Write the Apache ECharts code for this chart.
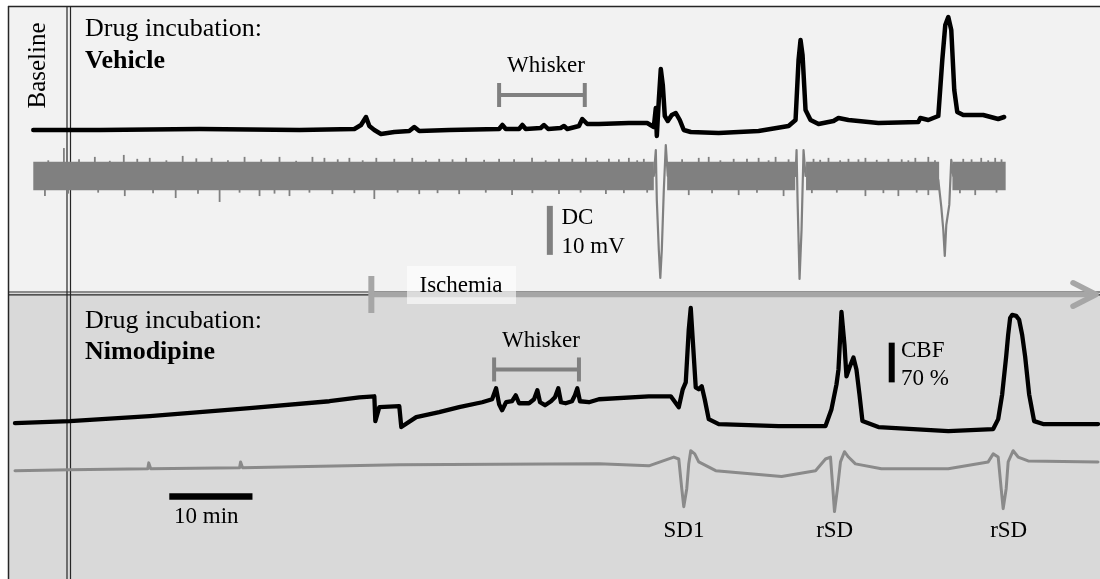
<!DOCTYPE html>
<html>
<head>
<meta charset="utf-8">
<script src="https://cdn.jsdelivr.net/npm/echarts@6/dist/echarts.min.js"></script>
<style>
html, body { margin: 0; padding: 0; background: #fff; }
#main { width: 1100px; height: 579px; }
</style>
</head>
<body>
<div id="main"></div>
<script>
// units: time in min, CBF in % (change), DC in mV
// scale bars of the figure
var scaleTime = 10, scaleCbf = 70, scaleDc = 10;

// ischemia onset / end of recording, whisker stimulation windows
var ischemia = [[44.64, 131.76]];
var whiskerVehicle = [[60.0, 70.3]];
var whiskerNimodipine = [[59.4, 69.6]];

// vehicle: CBF trace
var cbfVehicle = [
  [4.0,0],[12.0,0],[24.0,1.75],[36.0,0],[42.6,1.75],[43.4,8.75],[44.0,22.75],[44.4,7],[45.0,0],
  [45.8,-7],[47.4,-3.5],[49.2,-1.75],[49.8,5.25],[50.4,-1.75],[54.0,0],[60.0,1.75],[60.4,8.75],
  [60.8,1.75],[62.4,1.75],[62.8,8.75],[63.2,1.75],[65.0,3.5],[65.4,8.75],[65.9,1.75],[67.4,3.5],
  [67.8,7],[68.2,1.75],[69.6,7],[70.0,19.25],[70.6,10.5],[72.0,10.5],[75.6,12.25],[77.8,12.25],
  [78.6,5.25],[78.84,38.5],[78.96,-10.5],[79.2,52.5],[79.44,106.75],[79.68,78.75],[79.92,24.5],
  [80.28,15.75],[80.76,26.25],[81.24,29.75],[81.72,17.5],[82.2,0],[83.04,-3.5],[86.4,-5.25],
  [91.2,-1.75],[94.8,7],[95.64,17.5],[96.0,122.5],[96.24,157.5],[96.48,131.25],[96.84,35],
  [97.44,17.5],[98.4,10.5],[100.2,15.75],[100.8,21],[102,17.5],[105.6,12.25],[110.4,14],
  [110.64,21],[111.6,17.5],[112.8,24.5],[113.28,122.5],[113.64,183.75],[114.0,197.75],
  [114.36,175],[114.72,70],[115.08,31.5],[115.8,26.25],[118.2,26.25],[120.0,19.25],[120.72,22.75]
];

// vehicle: DC noise band segments [t0, t1, low, high] and single noise spikes [t, mV]
var dcVehicleBand = [[4.0,78.6,-2.9,2.9],[80.2,95.6,-2.9,2.9],[96.9,112.9,-2.9,2.9],[114.5,120.9,-2.9,2.9]];
var dcVehicleSpikes = [
  [7.68,5.7],[11.4,3.9],[14.88,4.3],[18.0,3.7],[21.96,4.1],[25.44,3.7],[29.4,3.9],[33.6,3.9],
  [37.56,3.9],[39.0,3.7],[42.0,3.7],[45.24,3.7],[49.56,3.7],[52.8,3.5],[56.04,3.7],[60.0,3.5],
  [63.96,3.7],[67.2,3.5],[70.44,3.7],[73.2,3.5],[75.6,3.7],[77.4,3.5],[84.0,3.7],[85.2,3.9],
  [88.2,3.5],[91.2,3.7],[93.24,3.9],[97.8,3.5],[99.6,3.7],[102.0,3.5],[104.04,3.7],[106.8,3.5],
  [110.04,3.7],[111.6,3.9],[115.8,3.5],[117.96,3.7],[119.64,3.7],
  [5.8,3.2],[9.5,3.4],[13.2,3.1],[16.5,3.5],[20.0,3.2],[23.6,3.6],[27.4,3.2],[31.4,3.4],[35.6,3.1],
  [40.6,3.4],[43.6,3.2],[47.4,3.5],[51.2,3.2],[54.4,3.4],[58.2,3.3],[61.8,3.4],[65.6,3.2],[68.8,3.5],
  [71.8,3.2],[74.4,3.4],[76.6,3.2],[82.0,3.4],[86.6,3.2],[89.8,3.5],[92.4,3.2],[94.8,3.4],[98.6,3.3],
  [101.0,3.2],[103.2,3.4],[105.4,3.3],[108.4,3.4],[109.2,3.2],[112.4,3.2],[116.8,3.4],[118.8,3.2],[120.4,3.4],
  [5.4,-4.1],[15.0,-4.1],[21.12,-4.5],[26.4,-5.3],[31.2,-4.1],[34.8,-4.1],[39.96,-3.7],[45.0,-4.7],
  [50.4,-3.7],[55.2,-3.7],[61.56,-3.9],[67.2,-3.7],[72.84,-3.7],[82.8,-3.9],[88.8,-3.9],[94.2,-4.1],
  [104.04,-4.1],[108.0,-4.1],[111.6,-3.9],[117.24,-3.9],
  [8.2,-3.6],[11.8,-3.4],[18.4,-3.5],[23.8,-3.6],[28.8,-3.4],[33.0,-3.6],[37.2,-3.4],[42.6,-3.5],
  [47.8,-3.4],[52.6,-3.5],[58.4,-3.4],[64.0,-3.5],[69.8,-3.4],[75.0,-3.5],[77.8,-3.4],[85.6,-3.5],
  [91.0,-3.4],[97.6,-3.5],[100.6,-3.4],[106.2,-3.5],[110.2,-3.4],[115.4,-3.5],[119.8,-3.4]
];
// vehicle: DC deflections of the three spreading depolarizations
var dcVehicleSD1 = [[78.6,0],[78.84,5.3],[78.96,-4.9],[79.2,-15.1],[79.38,-20.8],[79.56,-15.1],[79.8,-2.9],[80.04,6.3],[80.28,0]];
var dcVehicleSD2 = [[95.64,0],[95.76,5.3],[95.88,-4.9],[96.12,-21.0],[96.36,-11.0],[96.6,5.3],[96.84,0]];
var dcVehicleSD3 = [[112.8,-0.8],[113.16,-6.3],[113.4,-11.0],[113.58,-16.3],[113.76,-10.0],[114.12,-5.9],[114.36,3.3],[114.6,0]];

// nimodipine: CBF trace
var cbfNimodipine = [
  [1.8,-1.75],[8.4,1.75],[18.0,10.5],[30.0,24.5],[39.6,36.75],[43.2,43.75],[45.0,45.5],[45.12,1.75],
  [45.6,26.25],[48.0,28],[48.24,-8.75],[50.04,8.75],[52.8,17.5],[55.2,26.25],[57.96,35],[59.16,40.25],
  [59.64,59.5],[60.0,31.5],[60.36,21],[60.84,35],[61.56,36.75],[62.0,47.25],[62.4,33.25],[63.6,33.25],
  [64.2,40.25],[64.6,56],[64.92,35],[65.52,29.75],[66.24,36.75],[66.72,43.75],[67.12,59.5],[67.44,35],
  [68.0,33.25],[68.76,36.75],[69.12,47.25],[69.4,59.5],[69.72,36.75],[70.8,35],[72.0,40.25],
  [78.0,45.5],[80.64,45.5],[81.6,26.25],[82.08,57.75],[82.44,70],[82.8,162.75],[83.04,201.25],
  [83.28,145.25],[83.64,61.25],[84.0,57.75],[84.36,63],[84.72,40.25],[85.2,5.25],[86.4,-3.5],
  [93.6,-7],[99.24,-7],[99.96,22.75],[100.56,66.5],[100.8,92.75],[101.16,194.25],[101.52,136.5],
  [101.76,80.5],[102.12,96.25],[102.6,113.75],[102.96,92.75],[103.32,49],[103.68,1.75],[105.6,-8.75],
  [114.0,-15.75],[119.4,-12.25],[120.0,5.25],[120.48,49],[120.96,115.5],[121.2,154],[121.44,183.75],
  [121.68,189],[122.16,187.25],[122.52,180.25],[122.88,154],[123.24,115.5],[123.72,49],[124.32,1.75],
  [125.4,-3.5],[132,-3.5]
];
// nimodipine: DC trace
var dcNimodipine = [
  [1.8,-0.8],[8.4,-0.6],[17.76,-0.4],[17.88,0.8],[18.12,-0.4],[28.8,-0.2],[28.92,1.0],[29.16,-0.2],
  [48,0.4],[72,0.6],[78,0.2],[81,2.0],[81.6,1.6],[81.96,-4.5],[82.2,-8.2],[82.56,-4.5],[82.8,0.6],
  [83.04,3.3],[83.52,2.65],[84,1.0],[86.04,-0.8],[93.96,-2.0],[98.04,-0.8],[99.24,1.6],[99.84,2.0],
  [100.08,-3.5],[100.32,-9.2],[100.68,-4.5],[101.04,1.0],[101.52,3.1],[102,2.0],[102.84,0.6],
  [105.96,-0.4],[114,-0.4],[118.8,1.0],[119.4,2.65],[120,2.0],[120.36,-4.5],[120.6,-8.6],
  [120.96,-4.5],[121.2,1.0],[121.8,3.3],[122.4,2.0],[123.6,1.2],[132,1.0]
];

var myChart = echarts.init(document.getElementById('main'));
var serif = 'Liberation Serif';
var DCGRAY = '#808080';

function trace(data, xi, yi, color, width) {
  return {
    type: 'line', xAxisIndex: xi, yAxisIndex: yi, data: data,
    symbol: 'none', silent: true, z: 3,
    lineStyle: { color: color, width: width, join: 'round', cap: 'round' }
  };
}

// whisker bracket at a given level (in % of the CBF axis)
function bracket(data, xi, yi, level) {
  return {
    type: 'custom', xAxisIndex: xi, yAxisIndex: yi, data: data, silent: true, z: 4,
    renderItem: function (params, api) {
      var a = api.coord([api.value(0), level]);
      var b = api.coord([api.value(1), level]);
      var st = { stroke: DCGRAY, lineWidth: 4 };
      return { type: 'group', children: [
        { type: 'line', shape: { x1: a[0], y1: a[1], x2: b[0], y2: b[1] }, style: st },
        { type: 'line', shape: { x1: a[0], y1: a[1] - 12, x2: a[0], y2: a[1] + 12 }, style: st },
        { type: 'line', shape: { x1: b[0], y1: b[1] - 12, x2: b[0], y2: b[1] + 12 }, style: st }
      ] };
    }
  };
}

function bar(points, xi, yi, color, width) {
  return {
    type: 'line', xAxisIndex: xi, yAxisIndex: yi, data: points, symbol: 'none', silent: true, z: 4,
    lineStyle: { color: color, width: width, cap: 'butt' }
  };
}

function txt(s, x, y, opt) {
  opt = opt || {};
  return {
    type: 'text', x: x, y: y, z: 100, rotation: opt.rot || 0,
    style: {
      text: s, fontFamily: serif, fontSize: opt.size || 23, fontWeight: opt.bold ? 'bold' : 'normal',
      fill: '#000', align: opt.align || 'left', verticalAlign: 'middle'
    }
  };
}

function hline(y, x1, x2, w) {
  return { type: 'line', z: 1, shape: { x1: x1, y1: y, x2: x2, y2: y }, style: { stroke: '#262626', lineWidth: w } };
}
function vline(x, y1, y2, w) {
  return { type: 'line', z: 1, shape: { x1: x, y1: y1, x2: x, y2: y2 }, style: { stroke: '#262626', lineWidth: w } };
}

var option = {
  animation: false,
  grid: [
    { left: 9, right: -2, top: 6, height: 287, show: true, backgroundColor: '#f2f2f2', borderWidth: 0, borderColor: 'transparent' },
    { left: 9, right: -2, top: 293, height: 288, show: true, backgroundColor: '#d9d9d9', borderWidth: 0, borderColor: 'transparent' }
  ],
  xAxis: [
    { gridIndex: 0, type: 'value', min: 1.08, max: 132.24, show: false },
    { gridIndex: 1, type: 'value', min: 1.08, max: 132.24, show: false }
  ],
  yAxis: [
    { gridIndex: 0, type: 'value', min: -285.25, max: 217, show: false },
    { gridIndex: 0, type: 'value', min: -23.88, max: 34.69, show: false },
    { gridIndex: 1, type: 'value', min: -276.5, max: 227.5, show: false },
    { gridIndex: 1, type: 'value', min: -23.06, max: 35.71, show: false }
  ],
  series: [
    // vehicle DC noise band
    {
      type: 'custom', xAxisIndex: 0, yAxisIndex: 1, data: dcVehicleBand, silent: true, z: 2,
      renderItem: function (params, api) {
        var p0 = api.coord([api.value(0), api.value(3)]);
        var p1 = api.coord([api.value(1), api.value(2)]);
        return { type: 'rect', shape: { x: p0[0], y: p0[1], width: p1[0] - p0[0], height: p1[1] - p0[1] }, style: { fill: DCGRAY } };
      }
    },
    {
      type: 'custom', xAxisIndex: 0, yAxisIndex: 1, data: dcVehicleSpikes, silent: true, z: 2,
      renderItem: function (params, api) {
        var p0 = api.coord([api.value(0), 0]);
        var p1 = api.coord([api.value(0), api.value(1)]);
        return { type: 'line', shape: { x1: p0[0], y1: p0[1], x2: p1[0], y2: p1[1] }, style: { stroke: DCGRAY, lineWidth: 1.8 } };
      }
    },
    trace(dcVehicleSD1, 0, 1, DCGRAY, 2.2),
    trace(dcVehicleSD2, 0, 1, DCGRAY, 2.2),
    trace(dcVehicleSD3, 0, 1, DCGRAY, 2.2),
    trace(cbfVehicle, 0, 0, '#000', 4.5),
    trace(dcNimodipine, 1, 3, '#8a8a8a', 3),
    trace(cbfNimodipine, 1, 2, '#000', 4.3),
    bracket(whiskerVehicle, 0, 0, 61.25),
    bracket(whiskerNimodipine, 1, 2, 92.75),
    // scale bars
    bar([[66.1, -16.1], [66.1, -16.1 + scaleDc]], 0, 1, DCGRAY, 6),
    bar([[107.2, 70], [107.2, 70 + scaleCbf]], 1, 2, '#000', 6),
    bar([[20.35, -131.25], [20.35 + scaleTime, -131.25]], 1, 2, '#000', 6.5),
    // ischemia arrow
    {
      type: 'custom', xAxisIndex: 1, yAxisIndex: 2, data: ischemia, silent: true, z: 5, clip: false,
      renderItem: function (params, api) {
        var a = api.coord([api.value(0), 224.9]);
        var b = api.coord([api.value(1), 224.9]);
        var c = '#a6a6a6';
        return { type: 'group', children: [
          { type: 'line', shape: { x1: a[0], y1: a[1], x2: b[0] - 2, y2: b[1] }, style: { stroke: c, lineWidth: 5.5 } },
          { type: 'line', shape: { x1: a[0], y1: a[1] - 18.5, x2: a[0], y2: a[1] + 18.5 }, style: { stroke: c, lineWidth: 6 } },
          { type: 'polyline', shape: { points: [[b[0] - 23, b[1] - 11.7], [b[0], b[1]], [b[0] - 23, b[1] + 11.7]] },
            style: { stroke: c, lineWidth: 5.5, lineCap: 'round', lineJoin: 'round', fill: null } }
        ] };
      }
    }
  ],
  graphic: [
    vline(8.5, 6, 579, 1.5),
    hline(6.5, 8, 1100, 1.5),
    vline(67, 6, 579, 1.2),
    vline(70.5, 6, 579, 1.2),
    hline(292, 8, 1100, 1.2),
    hline(294.8, 8, 1100, 1.2),
    { type: 'rect', z: 90, shape: { x: 407, y: 266, width: 109, height: 38 }, style: { fill: 'rgba(255,255,255,0.6)' } },
    txt('Baseline', 38.5, 65.5, { rot: Math.PI / 2, align: 'center', size: 25 }),
    txt('Drug incubation:', 85, 29, { size: 26 }),
    txt('Vehicle', 85, 61.7, { size: 26, bold: true }),
    txt('Whisker', 546, 65.5, { align: 'center' }),
    txt('DC', 561.5, 218),
    txt('10 mV', 561.5, 246.7),
    txt('Ischemia', 461, 285.8, { align: 'center' }),
    txt('Drug incubation:', 85, 320.8, { size: 26 }),
    txt('Nimodipine', 85, 352, { size: 26, bold: true }),
    txt('Whisker', 541, 341, { align: 'center' }),
    txt('CBF', 901, 351),
    txt('70 %', 901, 379),
    txt('10 min', 206.3, 517, { align: 'center' }),
    txt('SD1', 684, 531, { align: 'center' }),
    txt('rSD', 834.7, 531, { align: 'center' }),
    txt('rSD', 1008.7, 531, { align: 'center' })
  ]
};

myChart.setOption(option);
</script>
</body>
</html>
